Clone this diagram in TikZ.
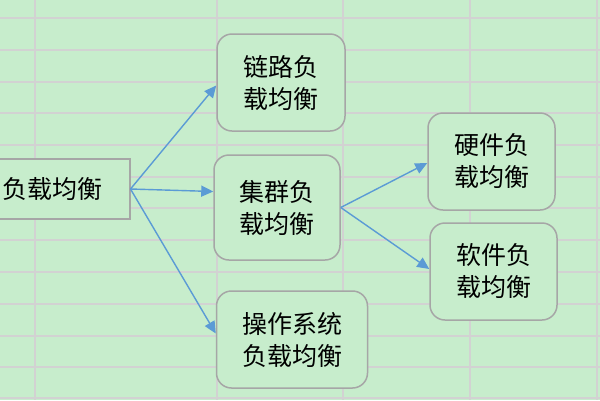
\documentclass[tikz,border=0pt]{standalone}
\usepackage{fontspec}
\newfontfamily\cjk{Noto Sans CJK SC}
\usetikzlibrary{arrows.meta}
\definecolor{bg}{HTML}{C7EDCC}
\definecolor{gridc}{HTML}{D2D2D2}
\definecolor{boxc}{HTML}{A6A6A6}
\definecolor{arr}{HTML}{5B9BD5}
\tikzset{
  box/.style={draw=boxc, line width=1.5pt, fill=bg, rounded corners=15pt, align=center,
    font=\cjk\fontsize{25}{32}\selectfont, inner sep=0pt},
  rootbox/.style={draw=boxc, line width=1.5pt, fill=bg, align=left,
    font=\cjk\fontsize{25}{32}\selectfont, inner ysep=0pt},
  conn/.style={draw=arr, line width=1.4pt, -{Triangle[length=12pt,width=11pt]}},
  gridline/.style={draw=gridc, line width=1.4pt}
}
\begin{document}
\begin{tikzpicture}[x=1pt,y=-1pt]
\useasboundingbox (0,0) rectangle (600,400);
\fill[bg] (0,0) rectangle (600,400);
% grid
\foreach \y in {18,50,82,113,145,177,208,240,272,304,336,367,398}
  \draw[gridline] (0,\y) -- (600,\y);
\foreach \x in {35,217,343,470,597}
  \draw[gridline] (\x,0) -- (\x,400);
% nodes
\node[rootbox, anchor=west, text width=120pt, inner xsep=7pt, minimum height=60pt] (root) at (-5,189) {负载均衡};
\node[box, minimum width=128pt, minimum height=97pt] (link) at (281,82.5) {链路负\\载均衡};
\node[box, minimum width=126pt, minimum height=105pt] (clu) at (277,207.5) {集群负\\载均衡};
\node[box, minimum width=151pt, minimum height=97pt] (os) at (292,339.5) {操作系统\\负载均衡};
\node[box, minimum width=127pt, minimum height=97pt] (hw) at (491.5,161.5) {硬件负\\载均衡};
\node[box, minimum width=127pt, minimum height=97pt] (sw) at (493.5,271.5) {软件负\\载均衡};
% connectors
\draw[conn] (root.east) -- ([yshift=-3pt]link.west);
\draw[conn] (root.east) -- ([yshift=16pt]clu.west);
\draw[conn] (root.east) -- ([yshift=6pt]os.west);
\draw[conn] (clu.east) -- ([yshift=-1.5pt]hw.west);
\draw[conn] (clu.east) -- ([yshift=2.5pt]sw.west);
\end{tikzpicture}
\end{document}
